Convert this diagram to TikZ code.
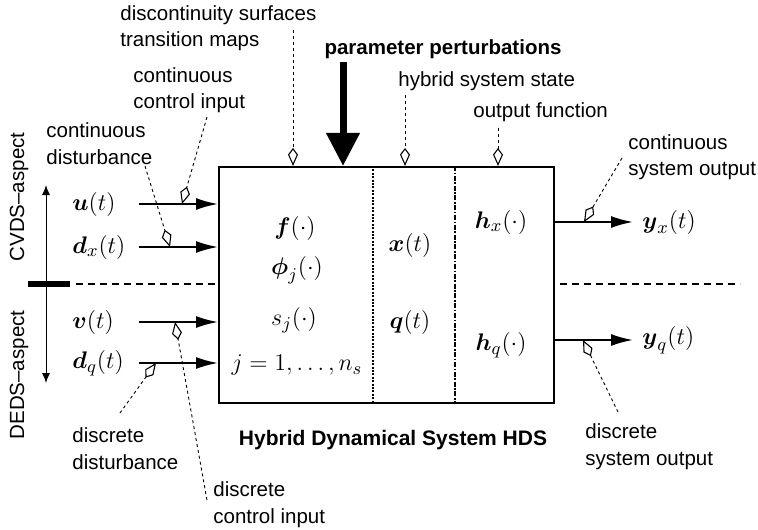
\documentclass[tikz,border=0pt]{standalone}
\usepackage{amsmath}
\usepackage[no-math]{fontspec}
\setmainfont{Liberation Sans}
\usetikzlibrary{arrows.meta}
\begin{document}
\begin{tikzpicture}[x=0.5pt,y=-0.5pt,
  lbl/.style={font=\fontsize{10.25}{13.2}\selectfont, align=left, inner sep=0pt, anchor=base west},
  blbl/.style={font=\fontsize{10.25}{13.2}\selectfont\bfseries, inner sep=0pt, anchor=base},
  mth/.style={font=\fontsize{13}{16}\selectfont, inner sep=0pt},
  sig/.style={line width=1pt, -{Latex[length=11pt,width=6pt]}},
  note/.style={line width=0.45pt, dash pattern=on 1.5pt off 1.5pt, -{Kite[open,length=9pt,width=5pt,inset=3.3pt,line width=0.55pt]}},
  divline/.style={line width=0.8pt, dash pattern=on 3.5pt off 2.5pt},
  sepA/.style={line width=1pt, dash pattern=on 1pt off 0.7pt},
  sepB/.style={line width=1pt, dash pattern=on 2.5pt off 0.8pt on 0.8pt off 0.8pt},
]
\useasboundingbox (0,0) rectangle (758,529);

% main box
\node[draw, line width=1pt, minimum width=167.5pt, minimum height=118pt, inner sep=0pt, anchor=north west] (box) at (218,166) {};
\coordinate (sAt) at (373,166); \coordinate (sAb) at (373,402);
\coordinate (sBt) at (455,166); \coordinate (sBb) at (455,402);
\draw[sepA] (sAt) -- (sAb);
\draw[sepB] (sBt) -- (sBb);

% box contents
\node[mth] (f) at (295,228) {$\boldsymbol{f}(\cdot)$};
\node[mth] (phi) at (297,270) {$\boldsymbol{\phi}_j(\cdot)$};
\node[mth] (s) at (294,320) {$s_j(\cdot)$};
\node[mth, font=\fontsize{12.2}{15}\selectfont] (j) at (297,365) {$j=1,\ldots,n_s$};
\node[mth] (x) at (410,245) {$\boldsymbol{x}(t)$};
\node[mth] (q) at (410,322) {$\boldsymbol{q}(t)$};
\node[mth] (hx) at (501,222) {$\boldsymbol{h}_x(\cdot)$};
\node[mth] (hq) at (501,345) {$\boldsymbol{h}_q(\cdot)$};

% inputs
\node[mth, anchor=west] (u) at (72,204) {$\boldsymbol{u}(t)$};
\node[mth, anchor=west] (dx) at (72,247) {$\boldsymbol{d}_x(t)$};
\node[mth, anchor=west] (v) at (72,322) {$\boldsymbol{v}(t)$};
\node[mth, anchor=west] (dq) at (72,363) {$\boldsymbol{d}_q(t)$};
\coordinate (u0) at (139,204); \coordinate (u1) at (218,204);
\coordinate (dx0) at (139,247); \coordinate (dx1) at (218,247);
\coordinate (v0) at (139,322); \coordinate (v1) at (218,322);
\coordinate (dq0) at (139,363); \coordinate (dq1) at (218,363);
\draw[sig] (u0) -- (u1);
\draw[sig] (dx0) -- (dx1);
\draw[sig] (v0) -- (v1);
\draw[sig] (dq0) -- (dq1);

% outputs
\node[mth, anchor=west] (yx) at (642,222) {$\boldsymbol{y}_x(t)$};
\node[mth, anchor=west] (yq) at (642,340) {$\boldsymbol{y}_q(t)$};
\coordinate (yx0) at (553,222); \coordinate (yx1) at (633,222);
\coordinate (yq0) at (553,340); \coordinate (yq1) at (633,340);
\draw[sig] (yx0) -- (yx1);
\draw[sig] (yq0) -- (yq1);

% dashed divider
\coordinate (dl0) at (76,284); \coordinate (dl1) at (218,284);
\coordinate (dr0) at (560,284); \coordinate (dr1) at (740,284);
\draw[divline] (dl0) -- (dl1);
\draw[divline] (dr0) -- (dr1);

% aspect axis
\coordinate (ax0) at (46,185); \coordinate (ax1) at (46,383);
\draw[line width=0.5pt, {Latex[length=5pt,width=4pt]}-{Latex[length=5pt,width=4pt]}] (ax0) -- (ax1);
\coordinate (bar0) at (28,284); \coordinate (bar1) at (70,284);
\draw[line width=3pt] (bar0) -- (bar1);
\node[font=\fontsize{10.25}{13.2}\selectfont, rotate=90, inner sep=0pt] (cvds) at (19,197) {CVDS--aspect};
\node[font=\fontsize{10.25}{13.2}\selectfont, rotate=90, inner sep=0pt] (deds) at (19,375) {DEDS--aspect};

% parameter perturbations
\node[blbl] (pp) at (443,55) {parameter perturbations};
\coordinate (pp0) at (343,62); \coordinate (pp1) at (343,166);
\draw[line width=3.5pt, -{Triangle[length=16.5pt,width=16pt]}] (pp0) -- (pp1);

% title
\node[blbl, font=\fontsize{10.5}{13}\selectfont\bfseries] (hds) at (393,445) {Hybrid Dynamical System HDS};

% annotations
\node[lbl] (disc) at (120,47) {discontinuity surfaces\\transition maps};
\coordinate (disc0) at (293,30); \coordinate (disc1) at (293,166);
\draw[note] (disc0) -- (disc1);

\node[lbl] (ccin) at (133,109) {continuous\\control input};
\coordinate (ccin0) at (207,117); \coordinate (ccin1) at (182,204);
\draw[note] (ccin0) -- (ccin1);

\node[lbl] (cdist) at (46,164) {continuous\\disturbance};
\coordinate (cdist0) at (145,166); \coordinate (cdist1) at (170,247);
\draw[note] (cdist0) -- (cdist1);

\node[lbl] (hss) at (398,87) {hybrid system state};
\coordinate (hss0) at (405,95); \coordinate (hss1) at (405,166);
\draw[note] (hss0) -- (hss1);

\node[lbl] (outf) at (473,118) {output function};
\coordinate (outf0) at (498,128); \coordinate (outf1) at (498,166);
\draw[note] (outf0) -- (outf1);

\node[lbl] (csout) at (628,176) {continuous\\system output};
\coordinate (csout0) at (622,158); \coordinate (csout1) at (584,222);
\draw[note] (csout0) -- (csout1);

\node[lbl] (dsout) at (585,465) {discrete\\system output};
\coordinate (dsout0) at (618,412); \coordinate (dsout1) at (583,340);
\draw[note] (dsout0) -- (dsout1);

\node[lbl] (ddist) at (72,469) {discrete\\disturbance};
\coordinate (ddist0) at (120,413); \coordinate (ddist1) at (156,363);
\draw[note] (ddist0) -- (ddist1);

\node[lbl] (dcin) at (213,523) {discrete\\control input};
\coordinate (dcin0) at (207,500); \coordinate (dcin1) at (175,322);
\draw[note] (dcin0) -- (dcin1);
\end{tikzpicture}
\end{document}
